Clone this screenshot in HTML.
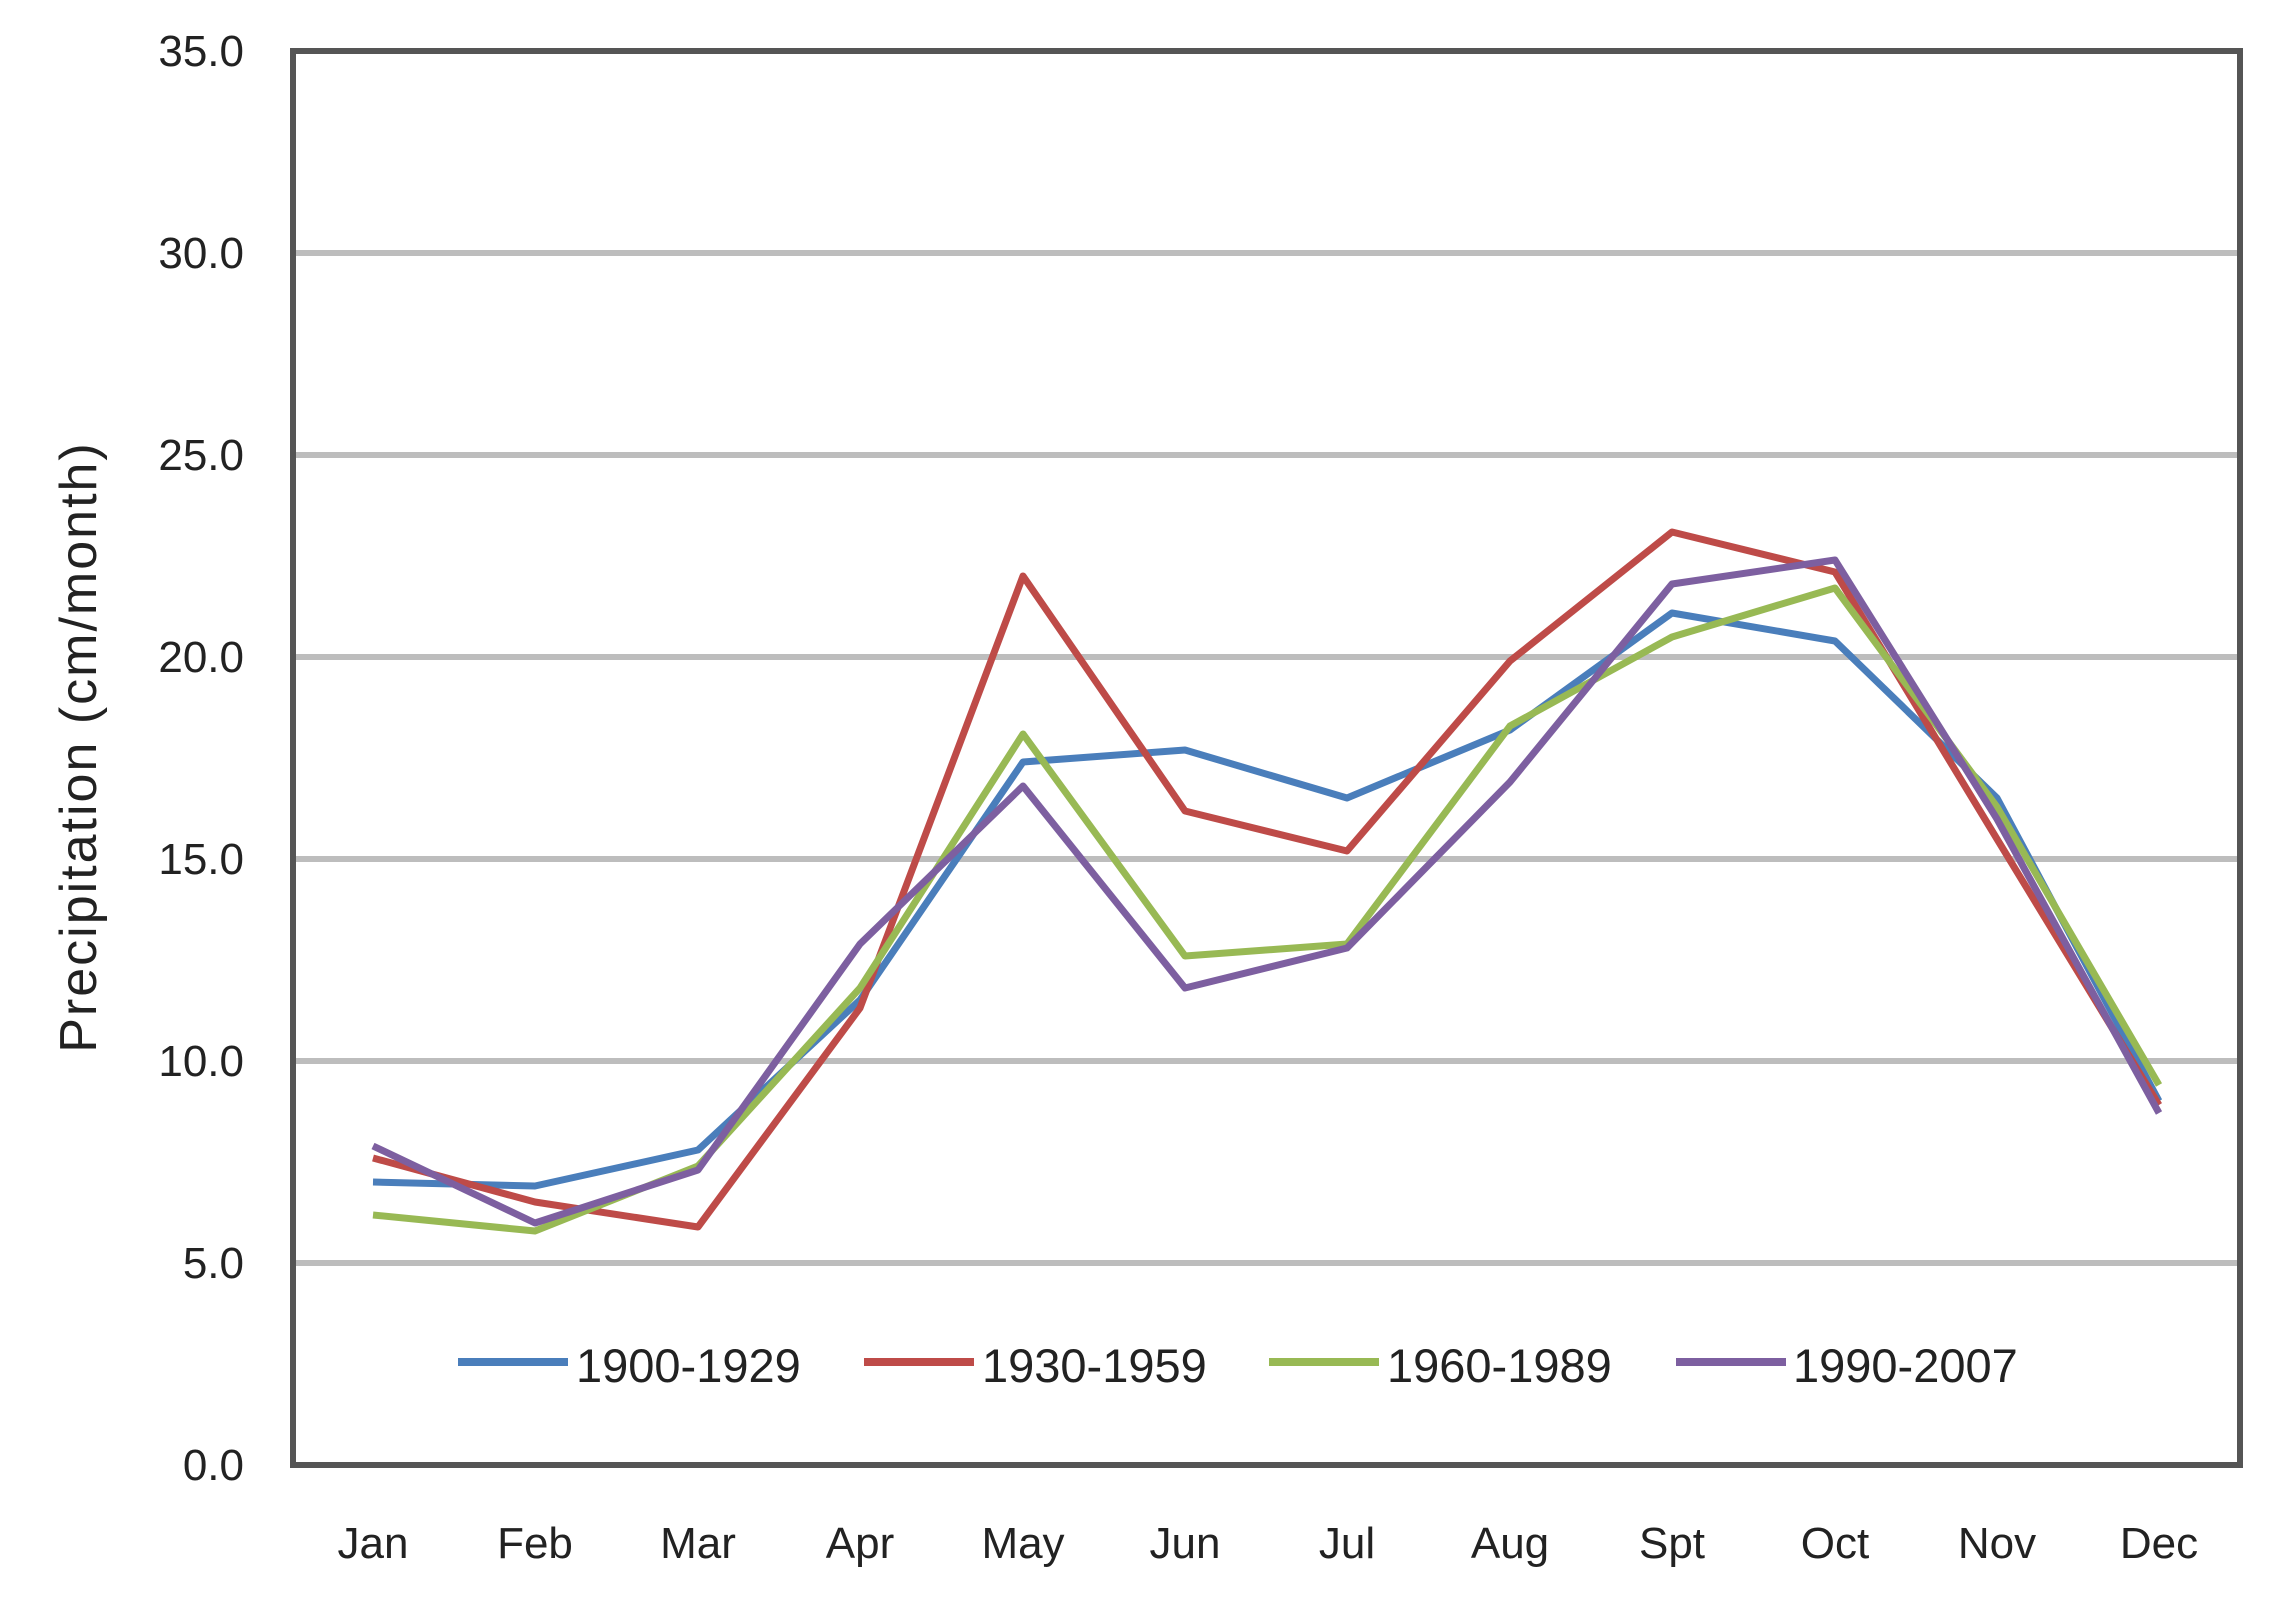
<!DOCTYPE html>
<html><head><meta charset="utf-8"><style>
html,body{margin:0;padding:0;background:#fff;}
svg{display:block;font-family:"Liberation Sans",sans-serif;}
</style></head><body>
<svg width="2296" height="1616" viewBox="0 0 2296 1616" xmlns="http://www.w3.org/2000/svg">
<rect width="2296" height="1616" fill="#fff"/>
<g stroke="#bdbdbd" stroke-width="6">
<line x1="293" y1="253" x2="2240" y2="253"/>
<line x1="293" y1="455" x2="2240" y2="455"/>
<line x1="293" y1="657" x2="2240" y2="657"/>
<line x1="293" y1="859" x2="2240" y2="859"/>
<line x1="293" y1="1061" x2="2240" y2="1061"/>
<line x1="293" y1="1263" x2="2240" y2="1263"/>
</g>
<rect x="293" y="51" width="1947" height="1414" fill="none" stroke="#555" stroke-width="6"/>
<g font-size="44" fill="#222" text-anchor="end">
<text x="244" y="66">35.0</text><text x="244" y="268">30.0</text><text x="244" y="470">25.0</text>
<text x="244" y="672">20.0</text><text x="244" y="874">15.0</text><text x="244" y="1076">10.0</text>
<text x="244" y="1278">5.0</text><text x="244" y="1480">0.0</text>
</g>
<text transform="translate(96,747) rotate(-90)" font-size="52" fill="#222" text-anchor="middle" letter-spacing="2">Precipitation (cm/month)</text>
<g font-size="44" fill="#222" text-anchor="middle">
<text x="373" y="1558">Jan</text><text x="535" y="1558">Feb</text><text x="698" y="1558">Mar</text>
<text x="860" y="1558">Apr</text><text x="1023" y="1558">May</text><text x="1185" y="1558">Jun</text>
<text x="1347" y="1558">Jul</text><text x="1510" y="1558">Aug</text><text x="1672" y="1558">Spt</text>
<text x="1835" y="1558">Oct</text><text x="1997" y="1558">Nov</text><text x="2159" y="1558">Dec</text>
</g>
<g fill="none" stroke-width="7" stroke-linejoin="round">
<polyline stroke="#4a7ebb" points="373,1182 535,1186 698,1150 860,1000 1023,762 1185,750 1347,798 1510,730 1672,613 1835,641 1997,798 2159,1101"/>
<polyline stroke="#be4b48" points="373,1158 535,1202 698,1227 860,1008 1023,576 1185,811 1347,851 1510,661 1672,532 1835,572 1997,839 2159,1105"/>
<polyline stroke="#98b954" points="373,1215 535,1231 698,1166 860,988 1023,734 1185,956 1347,944 1510,726 1672,637 1835,588 1997,807 2159,1085"/>
<polyline stroke="#7d5fa0" points="373,1146 535,1223 698,1170 860,944 1023,786 1185,988 1347,948 1510,782 1672,584 1835,560 1997,819 2159,1113"/>
</g>
<g stroke-width="8">
<line x1="458" y1="1362" x2="568" y2="1362" stroke="#4a7ebb"/>
<line x1="864" y1="1362" x2="974" y2="1362" stroke="#be4b48"/>
<line x1="1269" y1="1362" x2="1379" y2="1362" stroke="#98b954"/>
<line x1="1676" y1="1362" x2="1786" y2="1362" stroke="#7d5fa0"/>
</g>
<g font-size="47" fill="#222">
<text x="576" y="1382">1900-1929</text><text x="982" y="1382">1930-1959</text>
<text x="1387" y="1382">1960-1989</text><text x="1793" y="1382">1990-2007</text>
</g>
</svg>
</body></html>
